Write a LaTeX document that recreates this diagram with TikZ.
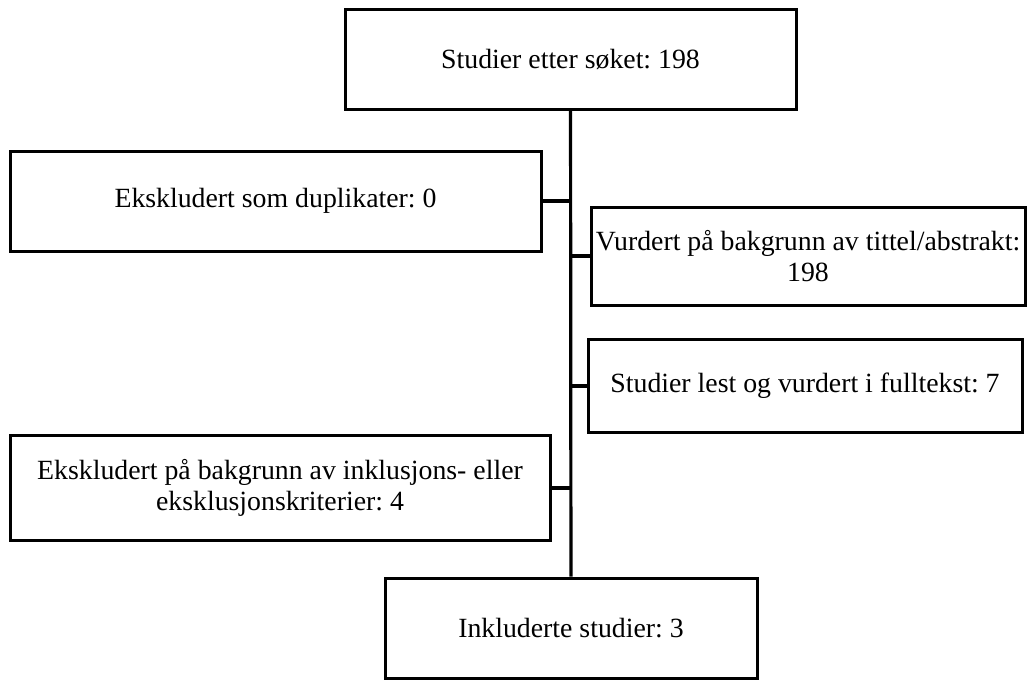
\documentclass[tikz,border=0pt]{standalone}
\usepackage{fontspec}
\setmainfont{Liberation Serif}
\frenchspacing
\tikzset{
  boks/.style={draw, rectangle, line width=3pt, align=center, inner sep=2pt,
    font=\fontsize{27.8}{31}\selectfont},
  linje/.style={line width=3.2pt}
}
\begin{document}
\begin{tikzpicture}[x=1pt,y=-1pt]
\useasboundingbox (0,0) rectangle (1031,680);
\node[boks, minimum width=451pt, minimum height=100pt] (sok) at (570.5,59) {Studier etter søket: 198};
\node[boks, minimum width=531pt, minimum height=100pt] (dup) at (275.5,201) {Ekskludert som duplikater: 0};
\node[boks, minimum width=434pt, minimum height=98pt] (tittel) at (808,256) {Vurdert på bakgrunn av tittel/abstrakt:\\198};
\node[boks, minimum width=434pt, minimum height=93pt] (full) at (805,386) {Studier lest og vurdert i fulltekst: 7};
\node[boks, minimum width=540pt, minimum height=105pt] (krit) at (280,488) {Ekskludert på bakgrunn av inklusjons- eller\\eksklusjonskriterier: 4};
\node[boks, minimum width=372pt, minimum height=100pt] (inkl) at (571,628) {Inkluderte studier: 3};
\draw[linje] (sok) -- (inkl);
\draw[linje] (dup) -- (dup -| sok.south);
\draw[linje] (tittel) -- (tittel -| sok.south);
\draw[linje] (full) -- (full -| sok.south);
\draw[linje] (krit) -- (krit -| sok.south);
\end{tikzpicture}
\end{document}
